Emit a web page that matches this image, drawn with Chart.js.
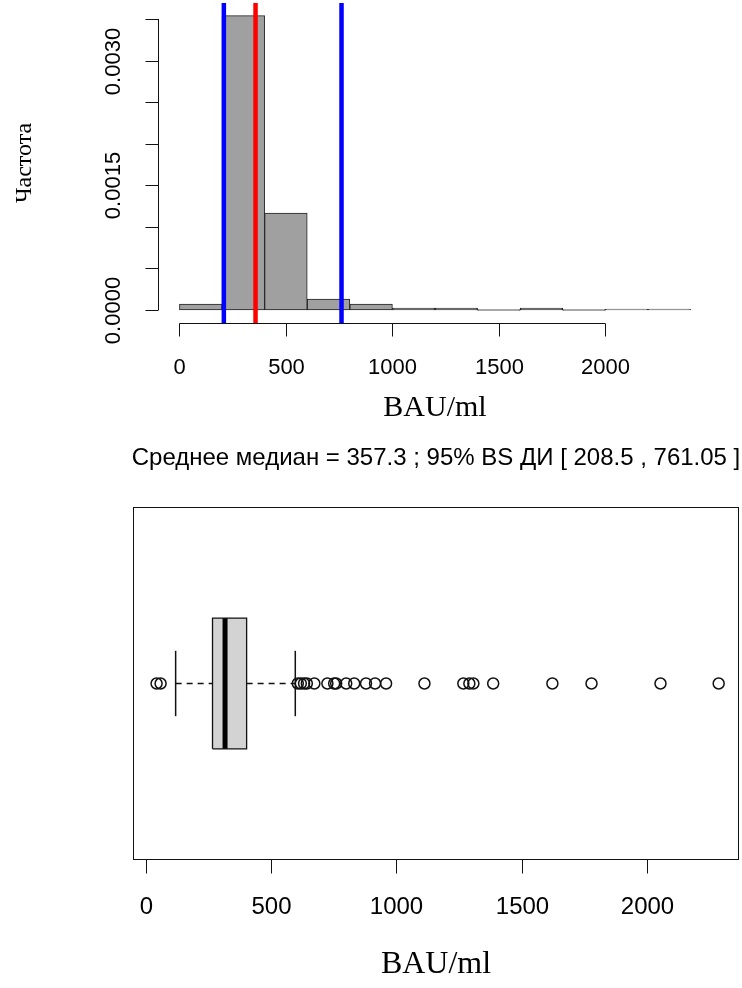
<!DOCTYPE html>
<html>
<head>
<meta charset="utf-8">
<script src="https://cdn.jsdelivr.net/npm/chart.js@4.4.1/dist/chart.umd.min.js"></script>
<style>
  body { margin: 0; background: #fff; }
  canvas { position: absolute; left: 0; }
  #hist { top: 0; }
  #box { top: 430px; }
</style>
</head>
<body>
<canvas id="hist" width="742" height="430"></canvas>
<canvas id="box" width="742" height="558"></canvas>
<script>
// histogram: bin centres (width 200) and density per bin
const binMid = [100, 300, 500, 700, 900, 1100, 1300, 1500, 1700, 1900, 2100, 2300];
const density = [0.000072, 0.00354, 0.001167, 0.000132, 0.000072, 0.000024, 0.000024, 0, 0.000024, 0, 0.000006, 0.000006];

// bootstrap summary
const meanMedian = 357.3;
const ciLow = 208.5;
const ciHigh = 761.05;

// boxplot five numbers + outliers
const whiskerLow = 120;
const q1 = 267;
const median = 317;
const q3 = 403;
const whiskerHigh = 597;
const outliers = [44, 60, 607, 619, 632, 643, 673, 725, 752, 760, 800, 832, 879, 915, 959,
  1112, 1267, 1291, 1307, 1386, 1622, 1778, 2053, 2285];

// axis ticks
const histXTicks = [0, 500, 1000, 1500, 2000];
const histYTicks = [0, 0.0005, 0.001, 0.0015, 0.002, 0.0025, 0.003, 0.0035];
const histYLabels = ['0.0000', '', '', '0.0015', '', '', '0.0030', ''];
const boxXTicks = [0, 500, 1000, 1500, 2000];

const title = 'Среднее медиан = 357.3 ; 95% BS ДИ [ 208.5 , 761.05 ]';
const xTitle = 'BAU/ml';
const yTitle = 'Частота';

const SANS = '"Liberation Sans", Arial, sans-serif';
const SERIF = '"Liberation Serif", "Times New Roman", serif';
const INK = '#111';

function line(ctx, x1, y1, x2, y2) {
  ctx.beginPath();
  ctx.moveTo(x1, y1);
  ctx.lineTo(x2, y2);
  ctx.stroke();
}

function text(ctx, s, x, y, font, rot) {
  ctx.save();
  ctx.translate(x, y);
  if (rot) ctx.rotate(rot);
  ctx.font = font;
  ctx.fillStyle = '#000';
  ctx.textAlign = 'center';
  ctx.textBaseline = 'middle';
  ctx.fillText(s, 0, 0);
  ctx.restore();
}

const histAxes = {
  id: 'histAxes',
  afterDraw(chart) {
    const { ctx, chartArea: a, scales: { x, y } } = chart;
    ctx.save();
    ctx.strokeStyle = INK;
    ctx.lineWidth = 1;
    const by = Math.round(a.bottom) + 0.5;
    line(ctx, x.getPixelForValue(histXTicks[0]), by, x.getPixelForValue(histXTicks[histXTicks.length - 1]), by);
    histXTicks.forEach((v) => {
      const px = Math.round(x.getPixelForValue(v)) + 0.5;
      line(ctx, px, by, px, by + 13);
      text(ctx, String(v), px, by + 44, '22px ' + SANS);
    });
    const lx = Math.round(a.left) - 0.5;
    line(ctx, lx, y.getPixelForValue(histYTicks[0]), lx, y.getPixelForValue(histYTicks[histYTicks.length - 1]));
    histYTicks.forEach((v, i) => {
      const py = Math.round(y.getPixelForValue(v)) + 0.5;
      line(ctx, lx, py, lx - 13, py);
      if (histYLabels[i]) text(ctx, histYLabels[i], lx - 45, py, '22px ' + SANS, -Math.PI / 2);
    });
    text(ctx, yTitle, 25, (a.top + a.bottom) / 2, '24px ' + SERIF, -Math.PI / 2);
    text(ctx, xTitle, (a.left + a.right) / 2, 408, '30px ' + SERIF);
    ctx.restore();
  },
};

const boxAxes = {
  id: 'boxAxes',
  afterDraw(chart) {
    const { ctx, chartArea: a, scales: { x } } = chart;
    ctx.save();
    ctx.strokeStyle = INK;
    ctx.lineWidth = 1;
    const l = Math.round(a.left) + 0.5, r = Math.round(a.right) - 0.5;
    const t = Math.round(a.top) + 0.5, b = Math.round(a.bottom) - 0.5;
    ctx.strokeRect(l, t, r - l, b - t);
    boxXTicks.forEach((v) => {
      const px = Math.round(x.getPixelForValue(v)) + 0.5;
      line(ctx, px, b, px, b + 14);
      text(ctx, String(v), px, b + 48, '24px ' + SANS);
    });
    text(ctx, title, (a.left + a.right) / 2, 28, '24px ' + SANS);
    text(ctx, xTitle, (a.left + a.right) / 2, 535, '32px ' + SERIF);
    ctx.restore();
  },
};

const histX = { min: -96, max: 2496 };
const histY = { min: -0.000156, max: 0.003692 };
const vline = (v) => [{ x: v, y: histY.min }, { x: v, y: histY.max }];

new Chart(document.getElementById('hist'), {
  type: 'bar',
  data: {
    datasets: [
      { type: 'line', data: vline(ciLow), borderColor: '#0000ff', borderWidth: 4.5, pointRadius: 0, order: 0 },
      { type: 'line', data: vline(ciHigh), borderColor: '#0000ff', borderWidth: 4.5, pointRadius: 0, order: 0 },
      { type: 'line', data: vline(meanMedian), borderColor: '#ff0000', borderWidth: 4.5, pointRadius: 0, order: 0 },
      {
        type: 'bar',
        data: binMid.map((x, i) => ({ x, y: density[i] })),
        backgroundColor: '#a0a0a0',
        borderColor: '#222',
        borderWidth: 1,
        borderSkipped: false,
        barThickness: 'flex',
        barPercentage: 1,
        categoryPercentage: 1,
        minBarLength: 1,
        order: 5,
      },
    ],
  },
  options: {
    responsive: false,
    animation: false,
    events: [],
    layout: { autoPadding: false, padding: { left: 159, right: 31, top: 3, bottom: 107 } },
    plugins: { legend: { display: false }, tooltip: { enabled: false } },
    scales: {
      x: { type: 'linear', min: histX.min, max: histX.max, offset: false, display: false, ticks: { stepSize: 200, includeBounds: false } },
      y: { type: 'linear', min: histY.min, max: histY.max, display: false },
    },
  },
  plugins: [histAxes],
});

const boxY = 1, boxHalf = 0.2, capHalf = 0.1;
const seg = (x1, y1, x2, y2) => [{ x: x1, y: y1 }, { x: x2, y: y2 }];
const thin = { showLine: true, pointRadius: 0, borderColor: INK, borderWidth: 1.3, fill: false };

new Chart(document.getElementById('box'), {
  type: 'scatter',
  data: {
    datasets: [
      {
        ...thin,
        data: [
          { x: q1, y: boxY - boxHalf }, { x: q3, y: boxY - boxHalf },
          { x: q3, y: boxY + boxHalf }, { x: q1, y: boxY + boxHalf }, { x: q1, y: boxY - boxHalf },
        ],
        fill: 'shape',
        backgroundColor: '#d3d3d3',
        order: 5,
      },
      { ...thin, data: seg(median, boxY - boxHalf, median, boxY + boxHalf), borderWidth: 5, borderColor: '#000', order: 2 },
      { ...thin, data: seg(whiskerLow, boxY, q1, boxY), borderDash: [6, 5], borderWidth: 1.5, order: 3 },
      { ...thin, data: seg(q3, boxY, whiskerHigh, boxY), borderDash: [6, 5], borderWidth: 1.5, order: 3 },
      { ...thin, data: seg(whiskerLow, boxY - capHalf, whiskerLow, boxY + capHalf), borderWidth: 1.5, order: 3 },
      { ...thin, data: seg(whiskerHigh, boxY - capHalf, whiskerHigh, boxY + capHalf), borderWidth: 1.5, order: 3 },
      {
        data: outliers.map((v) => ({ x: v, y: boxY })),
        pointStyle: 'circle',
        pointRadius: 5.5,
        pointBorderWidth: 1.5,
        pointBorderColor: INK,
        pointBackgroundColor: 'rgba(0,0,0,0)',
        showLine: false,
        order: 1,
      },
    ],
  },
  options: {
    responsive: false,
    animation: false,
    events: [],
    layout: { autoPadding: false, padding: { left: 133, right: 3, top: 77, bottom: 128 } },
    plugins: { legend: { display: false }, tooltip: { enabled: false } },
    scales: {
      x: { type: 'linear', min: -50, max: 2366, display: false },
      y: { type: 'linear', min: 0.46, max: 1.54, display: false },
    },
  },
  plugins: [boxAxes],
});
</script>
</body>
</html>
